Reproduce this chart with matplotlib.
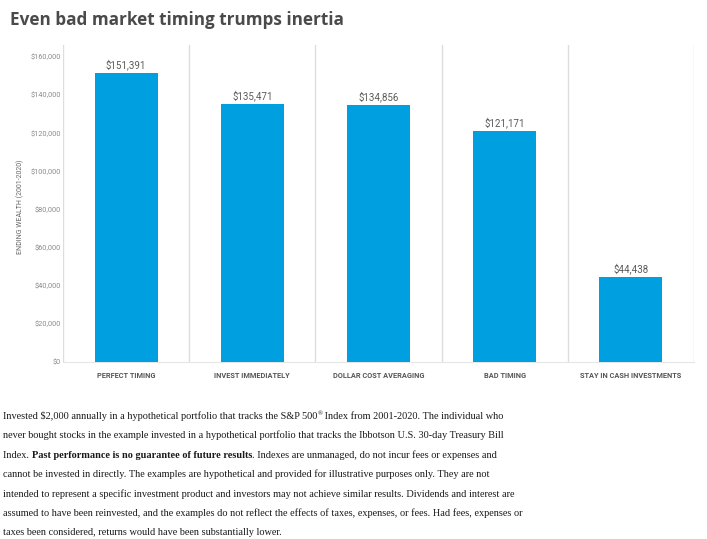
import numpy as np
import matplotlib.pyplot as plt

# Data
categories = ['PERFECT TIMING', 'INVEST IMMEDIATELY', 'DOLLAR COST AVERAGING',
              'BAD TIMING', 'STAY IN CASH INVESTMENTS']
ending_wealth = [151391, 135471, 134856, 121171, 44438]
yticks = [0, 20000, 40000, 60000, 80000, 100000, 120000, 140000, 160000]

title = 'Even bad market timing trumps inertia'
ylabel = 'ENDING WEALTH (2001-2020)'

# footer paragraph, one list per line: (text, style)
footer_lines = [
    [("Invested \\$2,000 annually in a hypothetical portfolio that tracks the S&P 500", 'n'),
     ("\u00ae", 'sup'),
     (" Index from 2001-2020. The individual who", 'n')],
    [("never bought stocks in the example invested in a hypothetical portfolio that tracks the Ibbotson U.S. 30-day Treasury Bill", 'n')],
    [("Index. ", 'n'), ("Past performance is no guarantee of future results", 'b'),
     (". Indexes are unmanaged, do not incur fees or expenses and", 'n')],
    [("cannot be invested in directly. The examples are hypothetical and provided for illustrative purposes only. They are not", 'n')],
    [("intended to represent a specific investment product and investors may not achieve similar results. Dividends and interest are", 'n')],
    [("assumed to have been reinvested, and the examples do not reflect the effects of taxes, expenses, or fees. Had fees, expenses or", 'n')],
    [("taxes been considered, returns would have been substantially lower.", 'n')],
]

bar_color = '#009fdf'
W, H = 707, 539

fig = plt.figure(figsize=(W / 100, H / 100), dpi=100)
ax = fig.add_axes([63 / W, 1 - 362 / H, (694 - 63) / W, (362 - 45) / H])

x = np.arange(len(categories))
ax.bar(x, ending_wealth, width=0.5, color=bar_color, zorder=3)
for xi, v in zip(x, ending_wealth):
    ax.text(xi, v + 1500, f'${v:,}', ha='center', va='bottom',
            fontsize=7, color='#5a5a5a', family='Roboto')

ax.set_xlim(-0.5, len(categories) - 0.5)
ax.set_ylim(0, 160000 * (362 - 45) / (362 - 57))
ax.set_yticks(yticks)
ax.set_yticklabels([f'${t:,}' for t in yticks], fontsize=5.3, color='#8c8c8c',
                   family='Roboto')
ax.set_xticks(x)
ax.set_xticklabels(categories, fontsize=5.3, color='#555555', fontweight='bold',
                   family='Roboto')
ax.tick_params(axis='y', length=0, pad=1.5)
ax.tick_params(axis='x', length=0, pad=7.5)

# vertical separators between categories
for s in np.arange(-0.5, len(categories), 1.0):
    ax.axvline(s, color='#dddddd', lw=1, zorder=1)
for sp in ['top', 'right', 'left']:
    ax.spines[sp].set_visible(False)
ax.spines['bottom'].set_color('#e6e6e6')

fig.text(20 / W, 1 - 207 / H, ylabel, rotation=90,
         ha='center', va='center', fontsize=5, color='#666666', family='Roboto')

fig.text(10 / W, 1 - 20 / H, title, fontsize=12.35, fontweight='bold',
         color='#4a4a4a', va='center', family='Open Sans')

# footer paragraph
serif = 'Liberation Serif'
fs = 7.4
groups = []
for i, parts in enumerate(footer_lines):
    y = 1 - (419 + i * 19.4) / H
    row = []
    for text, style in parts:
        t = fig.text(3 / W, y, text, ha='left', va='baseline', family=serif,
                     color='#1a1a1a',
                     fontsize=fs * 0.65 if style == 'sup' else fs,
                     fontweight='bold' if style == 'b' else 'normal')
        row.append((t, style))
    groups.append(row)

# chain the pieces of each line one after another
fig.canvas.draw()
renderer = fig.canvas.get_renderer()
for row in groups:
    base_y = row[0][0].get_position()[1]
    for k in range(1, len(row)):
        prev = row[k - 1][0]
        t, style = row[k]
        x1 = prev.get_window_extent(renderer).x1 / (fig.dpi * fig.get_figwidth())
        yy = base_y + (4 / H if style == 'sup' else 0)
        t.set_position((x1, yy))

fig.savefig('out.png', dpi=100, facecolor='white')
